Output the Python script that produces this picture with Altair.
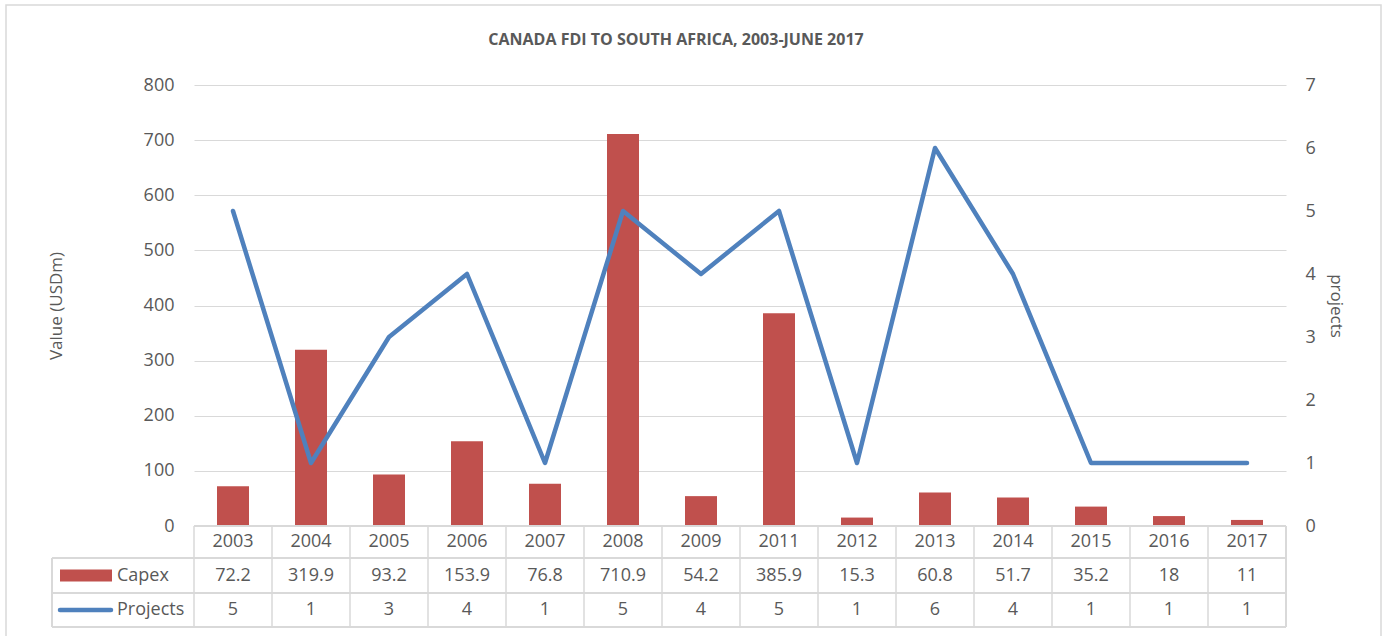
import altair as alt
import pandas as pd

# Canada FDI to South Africa: capital expenditure (USDm) and number of projects
years = ["2003", "2004", "2005", "2006", "2007", "2008", "2009",
         "2011", "2012", "2013", "2014", "2015", "2016", "2017"]
capex = [72.2, 319.9, 93.2, 153.9, 76.8, 710.9, 54.2,
         385.9, 15.3, 60.8, 51.7, 35.2, 18, 11]
projects = [5, 1, 3, 4, 1, 5, 4, 5, 1, 6, 4, 1, 1, 1]
title_text = "CANADA FDI TO SOUTH AFRICA, 2003-JUNE 2017"

df = pd.DataFrame({"year": years, "capex": capex, "projects": projects})
df["capex_label"] = [f"{v:g}" for v in capex]
df["projects_label"] = [str(v) for v in projects]

W, H = 1092, 441
FONT = "Open Sans"
RED = "#C0504D"
BLUE = "#4F81BD"
GRID = "#D9D9D9"
TEXT = "#595959"

# table geometry (pixels below the plot area)
ROW_YEAR = H + 16
ROW_CAPEX = H + 49.5
ROW_PROJ = H + 84
LINE_1 = H + 32
LINE_2 = H + 67
LINE_3 = H + 101
TABLE_LEFT = -142

base = alt.Chart(df)
x_band = alt.X("year:N", sort=years, axis=None,
               scale=alt.Scale(paddingInner=0, paddingOuter=0))

bars = base.mark_bar(color=RED, width=32).encode(
    x=x_band,
    y=alt.Y("capex:Q", scale=alt.Scale(domain=[0, 800]),
            axis=alt.Axis(values=list(range(0, 801, 100)), grid=True,
                          gridColor=GRID, gridWidth=1.2, domain=False,
                          ticks=False, labelPadding=20, labelFontSize=18,
                          labelFont=FONT, labelColor=TEXT,
                          title="Value (USDm)", titleFont=FONT,
                          titleFontSize=17, titleFontWeight="normal",
                          titleColor=TEXT, titleX=-138, titleY=H / 2,
                          titleAngle=-90, titleAlign="center",
                          titleBaseline="middle")),
)

line = base.mark_line(color=BLUE, strokeWidth=4.5, strokeJoin="round",
                      strokeCap="round").encode(
    x=x_band,
    y=alt.Y("projects:Q", scale=alt.Scale(domain=[0, 7]),
            axis=alt.Axis(orient="right", values=list(range(0, 8)),
                          grid=False, domain=False, ticks=False,
                          labelPadding=19, labelFontSize=18, labelFont=FONT,
                          labelColor=TEXT, title="projects", titleFont=FONT,
                          titleFontSize=17, titleFontWeight="normal",
                          titleColor=TEXT, titleX=49, titleY=H / 2,
                          titleAngle=90, titleAlign="center",
                          titleBaseline="middle")),
)


def hrule(y, x0):
    return base.mark_rule(color=GRID, strokeWidth=1.5).encode(
        x=alt.value(x0), x2=alt.value(W), y=alt.value(y))


def vrule(x, y0, y1):
    return base.mark_rule(color=GRID, strokeWidth=1.5).encode(
        x=alt.value(x), y=alt.value(y0), y2=alt.value(y1))


col_lines = base.mark_rule(color=GRID, strokeWidth=1.5).encode(
    x=alt.X("year:N", sort=years, axis=None, bandPosition=0,
            scale=alt.Scale(paddingInner=0, paddingOuter=0)),
    y=alt.value(H), y2=alt.value(LINE_3),
)

table_lines = [
    hrule(H, 0), hrule(LINE_1, TABLE_LEFT), hrule(LINE_2, TABLE_LEFT),
    hrule(LINE_3, TABLE_LEFT),
    vrule(TABLE_LEFT, LINE_1, LINE_3), vrule(W, H, LINE_3),
    col_lines,
]


def cell_text(field, y):
    return base.mark_text(font=FONT, fontSize=18, color=TEXT,
                          baseline="middle").encode(
        x=x_band, y=alt.value(y), text=f"{field}:N")


cells = [cell_text("year", ROW_YEAR), cell_text("capex_label", ROW_CAPEX),
         cell_text("projects_label", ROW_PROJ)]

legend_df = pd.DataFrame({"series": ["Capex", "Projects"],
                          "title": [title_text, ""]})
lbase = alt.Chart(legend_df)
capex_row = lbase.transform_filter(alt.datum.series == "Capex")
proj_row = lbase.transform_filter(alt.datum.series == "Projects")

row_labels = [
    capex_row.mark_text(
        font=FONT, fontSize=18, color=TEXT, align="left", baseline="middle"
    ).encode(x=alt.value(-77), y=alt.value(ROW_CAPEX), text="series:N"),
    proj_row.mark_text(
        font=FONT, fontSize=18, color=TEXT, align="left", baseline="middle"
    ).encode(x=alt.value(-77), y=alt.value(ROW_PROJ), text="series:N"),
    capex_row.mark_rect(color=RED).encode(
        x=alt.value(-134), x2=alt.value(-82),
        y=alt.value(ROW_CAPEX - 6), y2=alt.value(ROW_CAPEX + 6)),
    proj_row.mark_rule(color=BLUE, strokeWidth=4.5, strokeCap="round").encode(
        x=alt.value(-134), x2=alt.value(-83), y=alt.value(ROW_PROJ)),
]

# chart title, centred over the whole framed area
title = capex_row.mark_text(
    font=FONT, fontSize=16, fontWeight="bold", color=TEXT,
    align="center", baseline="middle"
).encode(x=alt.value(482), y=alt.value(-45), text="title:N")

frame = capex_row.mark_rect(fill=None, stroke=GRID, strokeWidth=1.5).encode(
    x=alt.value(-188), x2=alt.value(1187),
    y=alt.value(-80), y2=alt.value(570))

chart = alt.layer(
    frame, bars, line, *table_lines, *cells, *row_labels, title
).resolve_scale(y="independent").properties(
    width=W, height=H,
    autosize=alt.AutoSizeParams(type="none"),
    padding={"left": 194, "top": 85, "right": 100, "bottom": 110},
).configure(
    background="white"
).configure_view(
    stroke="transparent", strokeWidth=0
).configure_axis(domain=False, ticks=False)

chart.save("out.html", embed_options={"renderer": "svg", "actions": False})
